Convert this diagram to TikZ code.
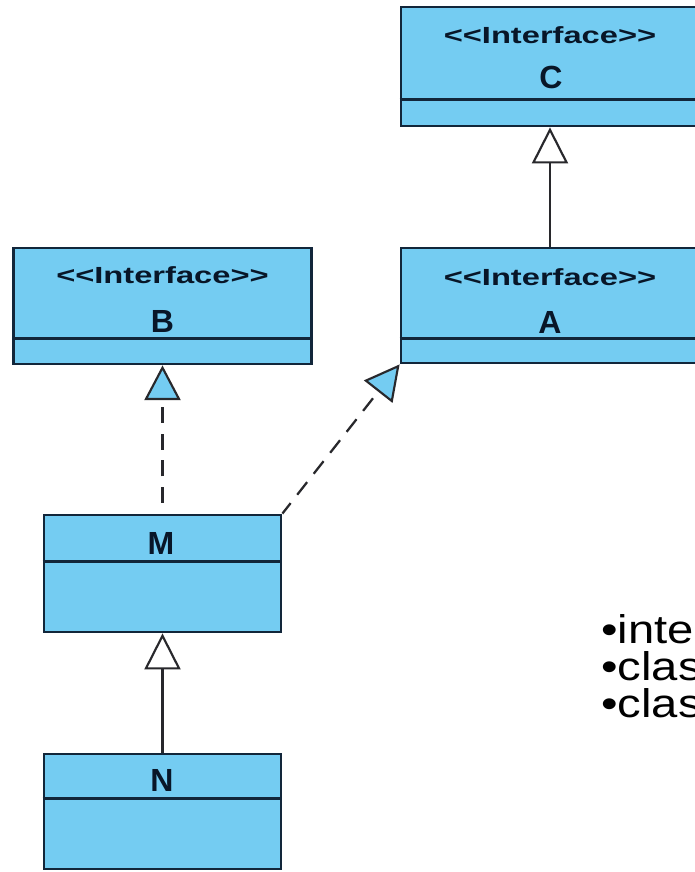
\documentclass[tikz,border=0pt]{standalone}
\usepackage{fontspec}
\usepackage{graphicx}
\setmainfont{Liberation Sans}
\newfontfamily\umlfont{Liberation Sans}
\usetikzlibrary{arrows.meta}
\definecolor{umlfill}{RGB}{116,204,242}
\definecolor{umlline}{RGB}{18,38,58}
\definecolor{umltext}{RGB}{8,22,40}
\definecolor{conn}{RGB}{40,40,44}
\begin{document}
\begin{tikzpicture}[x=0.75pt,y=-0.75pt,
  cls/.style={draw=umlline, fill=umlfill, line width=2.1pt, inner sep=0pt},
  boxsize/.style n args={2}{minimum width=#1*0.75pt, minimum height=#2*0.75pt},
  divline/.style={draw=umlline, line width=1.9pt},
  stereo/.style={font=\umlfont\bfseries\fontsize{17.5pt}{20pt}\selectfont, text=umltext, inner sep=0pt},
  cname/.style={font=\umlfont\bfseries\fontsize{24pt}{28pt}\selectfont, text=umltext, inner sep=0pt},
  gen/.style={draw=conn, line width=1.7pt, -{Triangle[length=27pt,width=27pt,line width=1.6pt,fill=white]}},
  real/.style={draw=conn, line width=1.7pt, dash pattern=on 12pt off 8pt, -{Triangle[length=26pt,width=27pt,line width=1.6pt,fill=umlfill]}},
  bulletline/.style={font=\fontsize{30pt}{27.75pt}\selectfont, anchor=base west, inner sep=0pt, text=black}
]
\useasboundingbox (0,0) rectangle (695,872);
\fill[white] (0,0) rectangle (695,872);

% class boxes
\node[cls, boxsize={298}{119}] (C) at (550,66.5) {};
\node[cls, boxsize={298}{115}] (A) at (550,305.5) {};
\node[cls, boxsize={298}{116}] (B) at (162.5,306) {};
\node[cls, boxsize={237}{117}] (M) at (162.5,573.5) {};
\node[cls, boxsize={237}{115}] (N) at (162.5,811.5) {};

% compartment dividers
\draw[divline] ([yshift=21pt]C.south west) -- ([yshift=21pt]C.south east);
\draw[divline] ([yshift=19.5pt]A.south west) -- ([yshift=19.5pt]A.south east);
\draw[divline] ([yshift=20.25pt]B.south west) -- ([yshift=20.25pt]B.south east);
\draw[divline] ([yshift=54pt]M.south west) -- ([yshift=54pt]M.south east);
\draw[divline] ([yshift=54pt]N.south west) -- ([yshift=54pt]N.south east);

% texts
\node[stereo] (Cs) at (550,35) {\scalebox{1.4}[1]{<<Interface>>}};
\node[cname] (Cn) at (551,77) {C};
\node[stereo] (As) at (550,277) {\scalebox{1.4}[1]{<<Interface>>}};
\node[cname] (An) at (550,322) {A};
\node[stereo] (Bs) at (162.5,275) {\scalebox{1.4}[1]{<<Interface>>}};
\node[cname] (Bn) at (162.5,321) {B};
\node[cname] (Mn) at (161,543) {M};
\node[cname] (Nn) at (162,780) {N};

% connectors
\draw[gen] (A.north) -- (C.south);
\draw[real, dash phase=12pt] (M.north) -- (B.south);
\draw[real, dash phase=2pt] (M.north east) -- (A.south west);
\draw[gen] (N.north) -- (M.south);

% bullet text
\node[bulletline] (b1) at (601,643) {\scalebox{1.18}[1]{•inte}};
\node[bulletline] (b2) at (601,680) {\scalebox{1.18}[1]{•clas}};
\node[bulletline] (b3) at (601,717) {\scalebox{1.18}[1]{•clas}};
\end{tikzpicture}
\end{document}
